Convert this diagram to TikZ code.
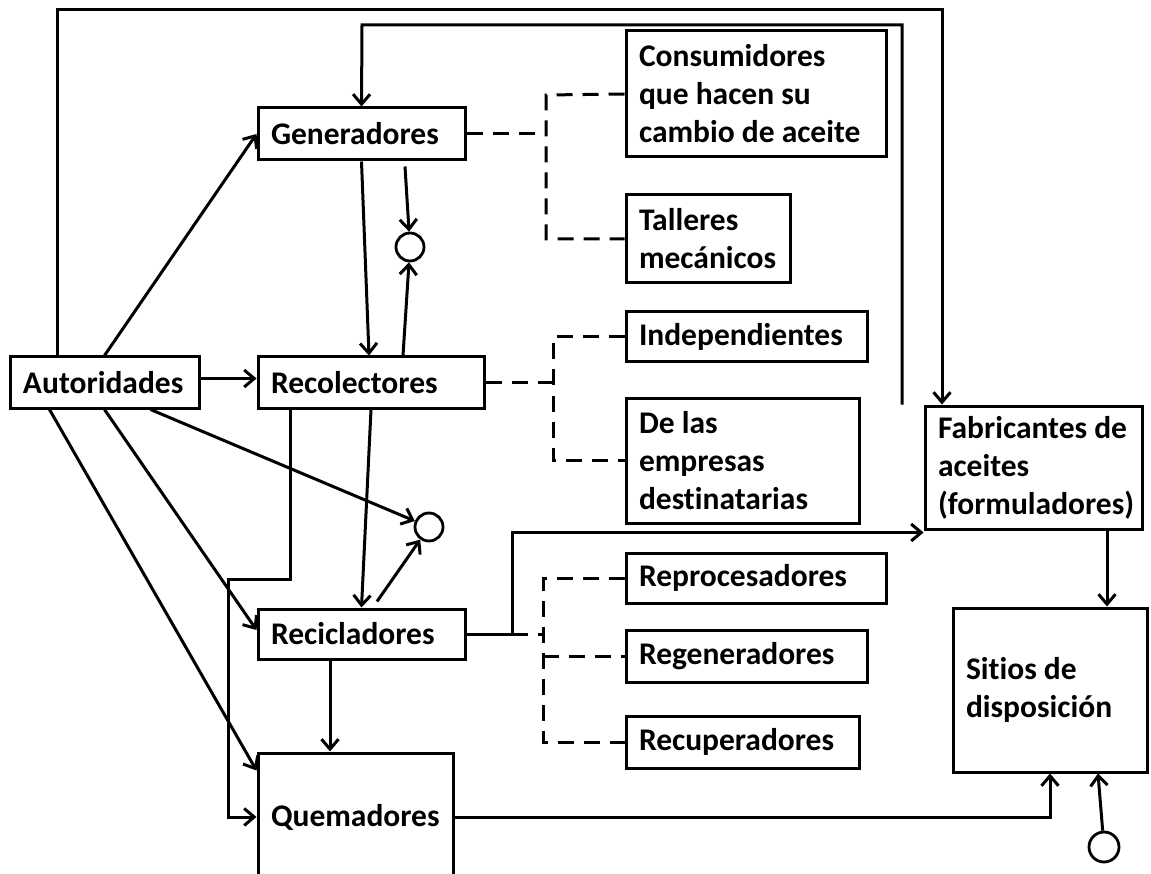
\documentclass[tikz,border=0pt]{standalone}
\usepackage{fontspec}
\setmainfont{Carlito}[Ligatures=NoCommon]
\usetikzlibrary{arrows.meta,calc}
\begin{document}
\begin{tikzpicture}[x=1pt,y=-1pt,
  box/.style={draw,line width=3pt,inner xsep=13pt,inner ysep=0pt,align=flush left,
    font=\fontsize{31.5}{38}\selectfont\bfseries,anchor=center},
  link/.style={line width=3pt,-{Straight Barb[length=10pt,width=17pt]}},
  dashlink/.style={line width=3pt,dash pattern=on 16pt off 10pt},
  hole/.style={circle,draw,line width=2.8pt,minimum size=28pt,inner sep=0pt}]
\useasboundingbox (0,0) rectangle (1151,874);

% actors
\node[box,minimum width=189pt,minimum height=51pt,text width=163pt] (aut) at (104.5,382.5) {Autoridades};
\node[box,minimum width=207pt,minimum height=52pt,text width=181pt] (gen) at (361.5,134) {Generadores};
\node[box,minimum width=226pt,minimum height=51pt,text width=200pt] (rec) at (371,382.5) {Recolectores};
\node[box,minimum width=207pt,minimum height=50pt,text width=181pt] (recic) at (361.5,634) {Recicladores};
\node[box,minimum width=195pt,minimum height=128pt,text width=169pt] (quem) at (355.5,817) {Quemadores};
\node[box,minimum width=217pt,minimum height=123pt,text width=191pt] (fab) at (1033.5,467.5) {Fabricantes de\\aceites\\(formuladores)};
\node[box,minimum width=194pt,minimum height=164pt,text width=168pt] (sit) at (1050,690) {Sitios de\\disposición};

% sub-types
\node[box,minimum width=260pt,minimum height=126pt,text width=234pt] (cons) at (756,94) {Consumidores\\que hacen su\\cambio de aceite};
\node[box,minimum width=164pt,minimum height=88pt,text width=138pt] (tal) at (708,239) {Talleres\\mecánicos};
\node[box,minimum width=241pt,minimum height=50pt,text width=215pt] (ind) at (746.5,337) {Independientes};
\node[box,minimum width=233pt,minimum height=125pt,text width=207pt] (emp) at (742.5,460.5) {De las\\empresas\\destinatarias};
\node[box,minimum width=260pt,minimum height=50pt,text width=234pt] (repro) at (756,578) {Reprocesadores};
\node[box,minimum width=241pt,minimum height=52pt,text width=215pt] (regen) at (746.5,656) {Regeneradores};
\node[box,minimum width=233pt,minimum height=52pt,text width=207pt] (recup) at (742.5,742) {Recuperadores};

% sinks
\node[hole] (c1) at (410,247) {};
\node[hole] (c2) at (429,527) {};
\node[hole,minimum size=30pt] (c3) at (1104,847) {};

% bend points
\coordinate (topR) at (942,10);
\coordinate (topL) at (362,25);
\coordinate (bendA) at (228,579);
\coordinate (bendB) at (512,634);
\coordinate (jg) at (546,0);
\coordinate (jr) at (553,0);
\coordinate (jc) at (543,0);

% flows from the authorities
\draw[link] (aut.north) -- (gen.west);
\draw[link] ([yshift=4pt]aut.east) -- ([yshift=4pt]rec.west);
\draw[link] ([xshift=46pt]aut.south) -- (c2);
\draw[link] (aut.south) -- ([yshift=4pt]recic.west);
\draw[link] ([xshift=-55pt]aut.south) -- ([yshift=-19pt]quem.north west);
\draw[link] ([xshift=-47.5pt]aut.north) |- (topR) -- ([xshift=-91.5pt]fab.north);

% oil flows
\draw[link] ([xshift=-131.5pt]fab.north) |- (topL) -- (gen.north);
\draw[link] (gen.south) -- ([xshift=-2pt]rec.north);
\draw[link] ([xshift=43.5pt,yshift=-5pt]gen.south) -- (c1);
\draw[link] ([xshift=32pt]rec.north) -- (c1);
\draw[link] (rec.south) -- (recic.north);
\draw[link] ([xshift=15.5pt,yshift=6pt]recic.north) -- (c2);
\draw[link] ([xshift=-81pt]rec.south) |- (bendA) |- (quem.west);
\draw[link] ([xshift=-31.5pt]recic.south) -- ([xshift=-31.5pt]recic.south |- quem.north);
\draw[link] (recic.east) -- (bendB) |- ([yshift=-2pt]fab.south west);
\draw[link] ([xshift=73.5pt]fab.south) -- ([xshift=57pt]sit.north);
\draw[link] (quem.east) -| (sit.south);
\draw[link] (c3) -- ([xshift=48pt]sit.south);

% classification brackets
\draw[dashlink] (gen.east) -- (gen.east -| jg);
\draw[dashlink] (cons.west) -- ([yshift=-1pt]cons.west -| jg) -- (tal.west -| jg) -- (tal.west);
\draw[dashlink] (rec.east) -- (rec.east -| jr);
\draw[dashlink] (ind.west) -- (ind.west -| jr) -- (emp.west -| jr) -- (emp.west);
\draw[dashlink] (bendB) -- (bendB -| jc);
\draw[dashlink] (repro.west) -- (repro.west -| jc) -- (recup.west -| jc) -- (recup.west);
\draw[dashlink] (regen.west -| jc) -- (regen.west);
\end{tikzpicture}
\end{document}
